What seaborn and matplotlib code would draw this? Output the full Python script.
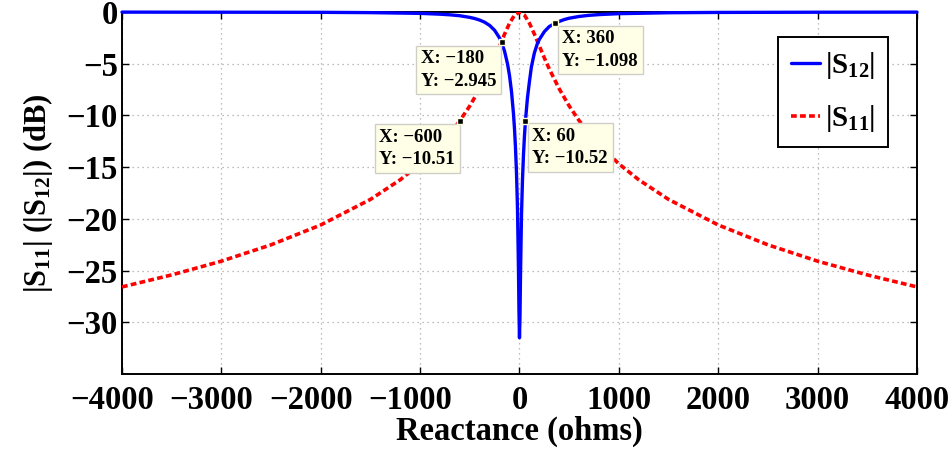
import matplotlib
matplotlib.use("Agg")
import matplotlib.pyplot as plt
from matplotlib.transforms import ScaledTranslation
import seaborn as sns
import pandas as pd

# |S12| transmission (dB) versus reactance (ohms)
x_s12 = [-4000, -3000, -2000, -1500, -1000, -800, -700, -600, -500, -450, -400, -350,
         -300, -250, -200, -180, -150, -120, -100, -80, -60, -50, -40, -30, -20, -10,
         -5, 0, 5, 10, 20, 30, 40, 50, 60, 80, 100, 120, 150, 180, 200, 250, 300,
         360, 400, 450, 500, 600, 700, 800, 1000, 1500, 2000, 3000, 4000]
s12_db = [-0.01, -0.02, -0.03, -0.06, -0.13, -0.21, -0.27, -0.36, -0.52, -0.63, -0.78, -0.99,
          -1.30, -1.77, -2.52, -2.945, -3.80, -5.03, -6.17, -7.72, -9.88, -11.33, -13.15, -15.56, -19.01, -24.99,
          -29.0, -31.5, -29.5, -25.70, -19.72, -16.27, -13.84, -12.00, -10.52, -8.33, -6.73, -5.30, -3.95, -3.05, -2.65, -1.90, -1.40,
          -1.098, -0.91, -0.73, -0.60, -0.43, -0.32, -0.25, -0.16, -0.07, -0.04, -0.02, -0.01]

# |S11| reflection (dB) versus reactance (ohms)
x_s11 = [-4000, -3500, -3000, -2500, -2000, -1500, -1200, -1000, -800, -700, -600, -500,
         -400, -300, -250, -200, -150, -100, -50, 0, 50, 100, 150, 200, 250, 300, 400,
         500, 600, 700, 800, 1000, 1200, 1500, 2000, 2500, 3000, 3500, 4000]
s11_db = [-26.58, -25.42, -24.09, -22.51, -20.59, -18.12, -16.22, -14.68, -12.82, -11.73, -10.51, -9.08,
          -7.43, -5.51, -4.43, -3.29, -2.14, -1.08, -0.30, 0.0, -0.30, -1.08, -2.14, -3.29, -4.43, -5.51, -7.43,
          -9.08, -10.50, -11.73, -12.82, -14.68, -16.22, -18.12, -20.59, -22.51, -24.09, -25.42, -26.58]

# Data cursor readouts
tip_x = [-180, 360, -600, 60]
tip_y = [-2.945, -1.098, -10.51, -10.52]
tip_side = ["left", "right", "left", "right"]

x_ticks = [-4000, -3000, -2000, -1000, 0, 1000, 2000, 3000, 4000]
y_ticks = [-30, -25, -20, -15, -10, -5, 0]

sns.set_style("ticks", rc={"text.color": "black", "axes.labelcolor": "black",
                           "xtick.color": "black", "ytick.color": "black",
                           "axes.edgecolor": "black"})
plt.rcParams["font.family"] = ["Liberation Serif", "DejaVu Serif"]
plt.rcParams["font.weight"] = "bold"
plt.rcParams["axes.labelweight"] = "bold"
plt.rcParams["mathtext.fontset"] = "custom"
plt.rcParams["mathtext.rm"] = "Liberation Serif:bold"
plt.rcParams["mathtext.it"] = "Liberation Serif:bold"
plt.rcParams["mathtext.bf"] = "Liberation Serif:bold"

fig = plt.figure(figsize=(9.53, 4.5), dpi=100)
ax = fig.add_axes([0.1280, 0.1689, 0.8342, 0.8044])

df12 = pd.DataFrame({"X": x_s12, "dB": s12_db})
df11 = pd.DataFrame({"X": x_s11, "dB": s11_db})

sns.lineplot(data=df12, x="X", y="dB", ax=ax, color="#0000FF", lw=2.4,
             label=r"|S$_{12}$|", clip_on=False, zorder=5)
sns.lineplot(data=df11, x="X", y="dB", ax=ax, color="#FF0000", lw=2.6,
             linestyle=(0, (1.6, 0.9)), label=r"|S$_{11}$|", zorder=4)

ax.set_xlim(-4000, 4000)
ax.set_ylim(-35, 0)
ax.set_xticks(x_ticks)
ax.set_yticks(y_ticks)
ax.tick_params(axis="both", direction="in", length=5, width=1.0, labelsize=23.5,
               top=True, right=True, colors="black")
ax.tick_params(axis="x", pad=8)
ax.tick_params(axis="y", pad=3)
ax.grid(True, color="#A8A8A8", linestyle=(0, (1, 3)), lw=0.9)
for sp in ax.spines.values():
    sp.set_linewidth(1.4)
    sp.set_color("black")

ax.set_xlabel("Reactance (ohms)", fontsize=23.5, fontweight="bold", labelpad=0)
ax.set_ylabel(r"|S$_{11}$| (|S$_{12}$|) (dB)", fontsize=22, fontweight="bold", labelpad=8)

# negative tick labels are centred on their digits, the minus sign hangs to the left
for tick_val, lab in zip(x_ticks, ax.get_xticklabels()):
    lab.set_fontweight("bold")
    if tick_val < 0:
        lab.set_transform(lab.get_transform() + ScaledTranslation(-10 / 100, 0, fig.dpi_scale_trans))
for lab in ax.get_yticklabels():
    lab.set_fontweight("bold")

# data cursor markers and readout boxes
ax.plot(tip_x, tip_y, "s", ms=5, mfc="black", mec="#FFFFD8", mew=1.0, zorder=7, clip_on=False)
for tx, ty, side in zip(tip_x, tip_y, tip_side):
    txt = "X: {}\nY: {}".format(str(tx).replace("-", "\u2212"), str(ty).replace("-", "\u2212"))
    if side == "left":
        off, ha = (-5, -8), "right"
    else:
        off, ha = (7, -7), "left"
    ax.annotate(txt, xy=(tx, ty), xytext=off, textcoords="offset pixels",
                ha=ha, va="top", multialignment="left", fontsize=13.5, fontweight="bold",
                linespacing=1.4,
                bbox=dict(boxstyle="square,pad=0.25", fc="#FFFFE8", ec="#CFCFC8", lw=1.0),
                zorder=6)

leg = ax.legend(loc="upper right", bbox_to_anchor=(0.9635, 0.931), borderaxespad=0,
                fontsize=21, frameon=True, fancybox=False, framealpha=1,
                handlelength=1.0, handletextpad=0.15, borderpad=0.45, labelspacing=0.75)
leg.get_frame().set_edgecolor("black")
leg.get_frame().set_linewidth(1.4)
for t in leg.get_texts():
    t.set_fontweight("bold")

fig.savefig("out.png", dpi=100)
